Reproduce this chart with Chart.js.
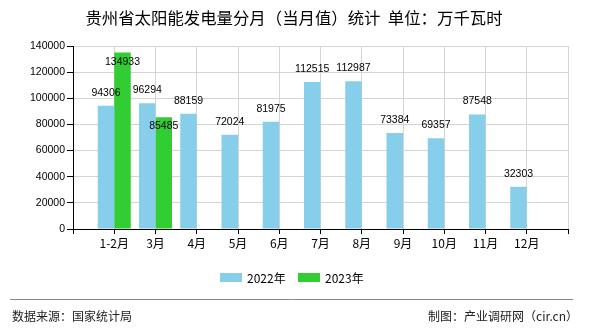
<!DOCTYPE html>
<html lang="zh-CN">
<head>
<meta charset="UTF-8">
<title>贵州省太阳能发电量分月（当月值）统计</title>
<script src="https://cdn.jsdelivr.net/npm/chart.js"></script>
<style>
  body { margin: 0; background: #fff; }
  canvas { display: block; }
</style>
</head>
<body>
<canvas id="chart" width="590" height="330"></canvas>
<script>
// monthly solar output, unit: 万千瓦时
const months = ['1-2月', '3月', '4月', '5月', '6月', '7月', '8月', '9月', '10月', '11月', '12月'];
const values2022 = [94306, 96294, 88159, 72024, 81975, 112515, 112987, 73384, 69357, 87548, 32303];
const values2023 = [134933, 85485];
const seriesNames = ['2022年', '2023年'];
const seriesColors = ['#87CEEB', '#32CD32'];
const yMax = 140000;
const yStep = 20000;

const titleText = '贵州省太阳能发电量分月（当月值）统计  单位：万千瓦时';
const sourceText = '数据来源：国家统计局';
const makerText = '制图：产业调研网（cir.cn）';

const CJK = '"Noto Sans CJK SC", sans-serif';
const NUM = '"Liberation Sans", Arial, sans-serif';

// one empty slot on each side so the bars sit on the grid lines
function pad(arr) {
    const out = [null];
    for (let i = 0; i < months.length; i++) out.push(i < arr.length ? arr[i] : null);
    out.push(null);
    return out;
}
const labels = [''].concat(months, ['']);

// value labels: 2022 above the bar, 2023 just inside the top
const valueLabels = {
    id: 'valueLabels',
    afterDatasetsDraw(chart) {
        const ctx = chart.ctx;
        ctx.save();
        ctx.font = '10.5px ' + NUM;
        ctx.fillStyle = '#000';
        ctx.textAlign = 'center';
        ctx.textBaseline = 'middle';
        chart.data.datasets.forEach((ds, di) => {
            const meta = chart.getDatasetMeta(di);
            meta.data.forEach((bar, i) => {
                const v = ds.data[i];
                if (v == null) return;
                const y = di === 0 ? bar.y - 13 : bar.y + 9;
                ctx.fillText(String(v), bar.x, y);
            });
        });
        ctx.restore();
    }
};

// title, legend and footer
const decorations = {
    id: 'decorations',
    beforeDraw(chart) {
        const ctx = chart.ctx;
        ctx.save();
        ctx.fillStyle = '#fff';
        ctx.fillRect(0, 0, chart.width, chart.height);
        ctx.restore();
    },
    afterDraw(chart) {
        const ctx = chart.ctx;
        ctx.save();
        ctx.fillStyle = '#000';
        ctx.textBaseline = 'middle';

        ctx.font = '16.4px ' + CJK;
        ctx.textAlign = 'center';
        ctx.fillText(titleText, 294, 18);

        // legend
        ctx.font = '12px ' + CJK;
        ctx.textAlign = 'left';
        const legendX = [220, 298];
        chart.data.datasets.forEach((ds, i) => {
            ctx.fillStyle = ds.backgroundColor;
            ctx.fillRect(legendX[i], 273, 22, 9);
            ctx.fillStyle = '#000';
            ctx.fillText(ds.label, legendX[i] + 27, 278);
        });

        // footer
        ctx.strokeStyle = '#888';
        ctx.lineWidth = 1;
        ctx.beginPath();
        ctx.moveTo(10, 299.5);
        ctx.lineTo(573, 299.5);
        ctx.stroke();
        ctx.fillStyle = '#222';
        ctx.font = '12px ' + CJK;
        ctx.textAlign = 'left';
        ctx.fillText(sourceText, 12, 316);
        ctx.textAlign = 'right';
        ctx.fillText(makerText, 578, 316);
        ctx.restore();
    }
};

new Chart(document.getElementById('chart'), {
    type: 'bar',
    data: {
        labels: labels,
        datasets: [
            { label: seriesNames[0], data: pad(values2022), backgroundColor: seriesColors[0] },
            { label: seriesNames[1], data: pad(values2023), backgroundColor: seriesColors[1] }
        ]
    },
    options: {
        responsive: false,
        animation: false,
        layout: { padding: { top: 46, right: 22, bottom: 71, left: 0 } },
        datasets: { bar: { categoryPercentage: 0.8, barPercentage: 1 } },
        plugins: {
            legend: { display: false },
            title: { display: false },
            tooltip: { enabled: false }
        },
        scales: {
            x: {
                offset: false,
                grid: { offset: false, color: '#d4d4d4', tickColor: '#000', tickLength: 5 },
                border: { color: '#000' },
                ticks: { color: '#000', font: { family: CJK, size: 12 }, padding: 2, autoSkip: false, maxRotation: 0 },
                afterFit(scale) { scale.height = 30; }
            },
            y: {
                min: 0,
                max: yMax,
                grid: { color: '#d4d4d4', tickColor: '#000', tickLength: 6 },
                border: { color: '#000' },
                ticks: {
                    stepSize: yStep,
                    color: '#000',
                    font: { family: NUM, size: 10.5 },
                    padding: 2,
                    callback: v => String(v)
                },
                afterFit(scale) { scale.width = 73; }
            }
        }
    },
    plugins: [valueLabels, decorations]
});
</script>
</body>
</html>
